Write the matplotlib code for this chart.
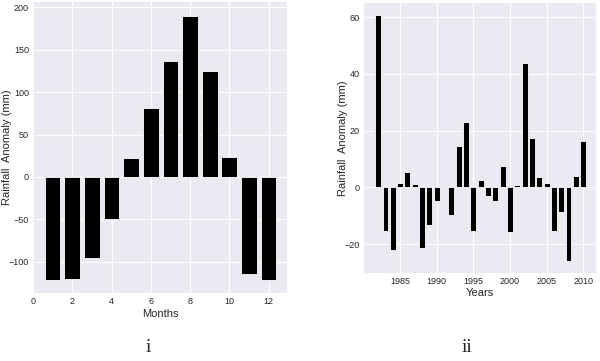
import matplotlib
matplotlib.use("Agg")
import matplotlib.pyplot as plt

# monthly anomaly (i)
months = list(range(1, 13))
anom_month = [-122, -120, -96, -50, 22, 81, 137, 190, 125, 23, -115, -122]

# yearly anomaly (ii)
years = list(range(1982, 2011))
anom_year = [60.7, -15.4, -22.1, 1.6, 5.3, 1.2, -21.2, -13.1, -4.8, 0.35,
             -9.9, 14.5, 23.2, -15.4, 2.6, -3.1, -4.8, 7.6, -15.8, 0.7,
             43.8, 17.5, 3.8, 1.6, -15.2, -8.7, -25.8, 4.1, 16.2]

plt.style.use("seaborn-v0_8-darkgrid")
plt.rcParams["font.family"] = ["Liberation Sans Narrow", "Liberation Sans", "DejaVu Sans"]

fig = plt.figure(figsize=(6, 3.61), dpi=100)
fig.patch.set_facecolor("white")

ax1 = fig.add_axes([0.055, 0.188, 0.423, 0.806])
ax1.bar(months, anom_month, width=0.8, color="black", edgecolor="white", linewidth=0.6)
ax1.set_xlim(0, 12.93)
ax1.set_ylim(-137, 206)
ax1.set_xticks(range(0, 13, 2))
ax1.set_yticks([-100, -50, 0, 50, 100, 150, 200])
ax1.set_xlabel("Months", fontsize=8, labelpad=2)
ax1.set_ylabel("Rainfall  Anomaly (mm)", fontsize=8, family="Liberation Sans")
ax1.yaxis.set_label_coords(-0.083, 0.5)
ax1.tick_params(labelsize=6.5, pad=3)

ax2 = fig.add_axes([0.607, 0.245, 0.387, 0.747])
ax2.bar(years, anom_year, width=0.8, color="black", edgecolor="white", linewidth=0.6)
ax2.set_xlim(1980.1, 2011.8)
ax2.set_ylim(-30, 65)
ax2.set_xticks([1985, 1990, 1995, 2000, 2005, 2010])
ax2.set_yticks([-20, 0, 20, 40, 60])
ax2.set_xlabel("Years", fontsize=8, labelpad=2)
ax2.set_ylabel("Rainfall  Anomaly (mm)", fontsize=8, family="Liberation Sans")
ax2.yaxis.set_label_coords(-0.069, 0.5)
ax2.tick_params(labelsize=6.5, pad=3)

fig.text(148 / 600, 1 - 347 / 361, "i", fontsize=14, family="Liberation Serif",
         ha="center", va="center")
fig.text(467 / 600, 1 - 347 / 361, "ii", fontsize=14, family="Liberation Serif",
         ha="center", va="center")

fig.savefig("out.png", dpi=100, facecolor="white")
